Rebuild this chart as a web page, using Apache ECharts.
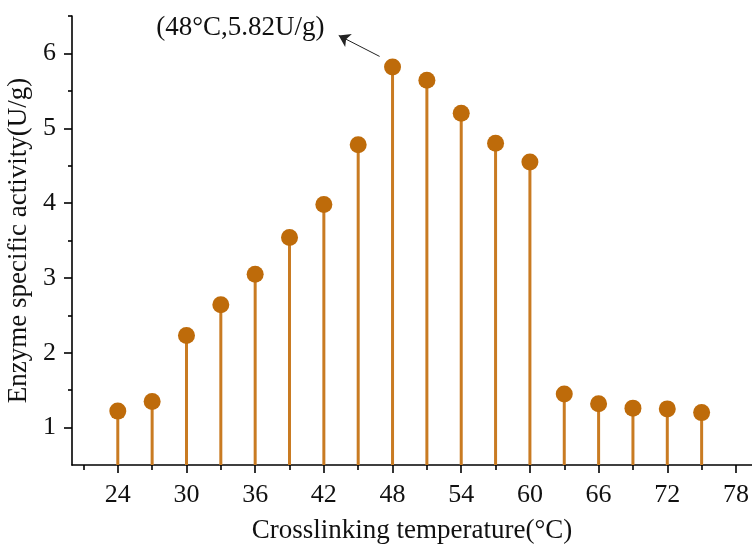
<!DOCTYPE html>
<html>
<head>
<meta charset="utf-8">
<script src="https://cdn.jsdelivr.net/npm/echarts@6/dist/echarts.min.js"></script>
<style>html,body{margin:0;padding:0;background:#fff}#c{width:752px;height:546px}</style>
</head>
<body>
<div id="c"></div>
<script>
const temperatures = [24, 27, 30, 33, 36, 39, 42, 45, 48, 51, 54, 57, 60, 63, 66, 69, 72, 75];
const activity = [1.22, 1.35, 2.23, 2.64, 3.05, 3.54, 3.98, 4.78, 5.82, 5.64, 5.20, 4.80, 4.55, 1.45, 1.32, 1.26, 1.25, 1.20];
const xMajorTicks = [24, 30, 36, 42, 48, 54, 60, 66, 72, 78];
const xMinorTicks = [21, 27, 33, 39, 45, 51, 57, 63, 69, 75];
const yMajorTicks = [1, 2, 3, 4, 5, 6];
const yMinorTicks = [1.5, 2.5, 3.5, 4.5, 5.5, 6.5];
const annotationText = '(48°C,5.82U/g)';
const annotationPos = [34.7, 6.34];
const arrowFrom = [46.87, 5.96];
const arrowTo = [43.3, 6.24];

const pts = temperatures.map((t, i) => [t, activity[i]]);
const FONT = 'Liberation Serif';
const chart = echarts.init(document.getElementById('c'));
const axisLineStyle = { color: '#000', width: 1.6 };
chart.setOption({
  animation: false,
  grid: { left: 72, right: 0, top: 16, bottom: 81, containLabel: false, outerBoundsMode: 'none' },
  xAxis: [{
    type: 'value', min: 20, max: 79.4, position: 'bottom',
    name: 'Crosslinking temperature(°C)', nameLocation: 'middle', nameGap: 52,
    nameTextStyle: { fontFamily: FONT, fontSize: 27, color: '#111' },
    axisLine: { show: true, onZero: false, lineStyle: axisLineStyle },
    axisTick: { show: true, inside: false, length: 8, lineStyle: axisLineStyle, customValues: xMajorTicks },
    axisLabel: { show: true, margin: 17, fontFamily: FONT, fontSize: 26, color: '#111', customValues: xMajorTicks },
    splitLine: { show: false }
  }, {
    type: 'value', min: 20, max: 79.4, position: 'bottom', offset: 0,
    axisLine: { show: false, onZero: false },
    axisTick: { show: true, inside: false, length: 5, lineStyle: axisLineStyle, customValues: xMinorTicks },
    axisLabel: { show: false },
    splitLine: { show: false }
  }],
  yAxis: [{
    type: 'value', min: 0.5, max: 6.5, position: 'left',
    name: 'Enzyme specific activity(U/g)', nameLocation: 'middle', nameGap: 34,
    nameTextStyle: { fontFamily: FONT, fontSize: 27, color: '#111' },
    axisLine: { show: true, onZero: false, lineStyle: axisLineStyle },
    axisTick: { show: true, inside: false, length: 8, lineStyle: axisLineStyle, customValues: yMajorTicks },
    axisLabel: { show: true, margin: 16, fontFamily: FONT, fontSize: 26, color: '#111', customValues: yMajorTicks },
    splitLine: { show: false }
  }, {
    type: 'value', min: 0.5, max: 6.5, position: 'left', offset: 0,
    axisLine: { show: false, onZero: false },
    axisTick: { show: true, inside: false, length: 4, lineStyle: axisLineStyle, customValues: yMinorTicks },
    axisLabel: { show: false },
    splitLine: { show: false }
  }],
  series: [{
    type: 'bar', xAxisIndex: 0, yAxisIndex: 0,
    data: pts, barWidth: 3, clip: true,
    itemStyle: { color: '#C97B22' }, z: 2
  }, {
    type: 'scatter', xAxisIndex: 0, yAxisIndex: 0,
    data: pts, symbol: 'circle', symbolSize: 17,
    itemStyle: { color: '#BE6B0A', opacity: 1 }, z: 3,
    markLine: {
      silent: true, symbol: ['none', 'arrow'], symbolSize: 11,
      lineStyle: { color: '#222', width: 1, type: 'solid', opacity: 1 },
      itemStyle: { color: '#222' },
      label: { show: false },
      data: [[{ coord: arrowFrom }, { coord: arrowTo }]]
    },
    markPoint: {
      silent: true, symbol: 'circle', symbolSize: 0,
      label: { show: true, position: 'inside', formatter: annotationText, fontFamily: FONT, fontSize: 27, color: '#111' },
      data: [{ coord: annotationPos }]
    }
  }]
});
</script>
</body>
</html>
